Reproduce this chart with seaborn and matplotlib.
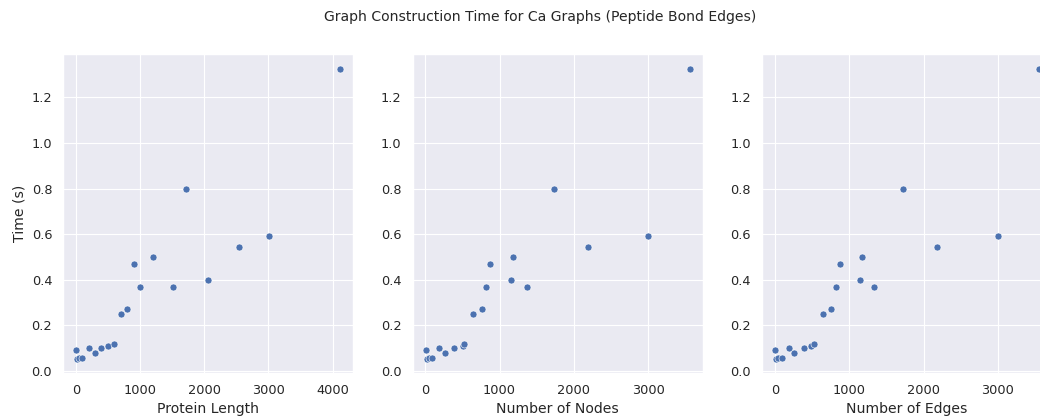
import pandas as pd
import seaborn as sns
import matplotlib.pyplot as plt

# -----------------------------
# Data
# -----------------------------
protein_length = [0, 10, 36, 93, 202, 296, 389, 498, 592, 695,
                  794, 903, 991, 1199, 1505, 2061, 1714, 2535, 3003, 4119]
num_nodes = [9, 18, 49, 90, 184, 265, 390, 502, 520, 646,
             758, 870, 821, 1175, 1363, 1157, 1726, 2184, 3000, 3556]
num_edges = [0, 9, 40, 94, 188, 254, 393, 487, 522, 647,
             759, 871, 821, 1170, 1326, 1138, 1723, 2183, 3004, 3554]
time_s = [0.094, 0.054, 0.058, 0.059, 0.100, 0.078, 0.100, 0.110, 0.120, 0.249,
          0.274, 0.471, 0.368, 0.501, 0.368, 0.398, 0.800, 0.542, 0.590, 1.326]

df = pd.DataFrame({
    'Protein Length': protein_length,
    'Number of Nodes': num_nodes,
    'Number of Edges': num_edges,
    'Time (s)': time_s,
})

# -----------------------------
# Plot
# -----------------------------
sns.set_theme(style='darkgrid')

W, H, DPI = 1040, 417, 84
fig = plt.figure(figsize=(W / DPI, H / DPI), dpi=DPI)

bottom = (H - 373.3) / H
height = (373.3 - 54) / H
lefts = [63.3, 412.7, 762]
width = 290 / W

cols = ['Protein Length', 'Number of Nodes', 'Number of Edges']
for i, (left, col) in enumerate(zip(lefts, cols)):
    ax = fig.add_axes([left / W, bottom, width, height])
    sns.scatterplot(x=col, y='Time (s)', data=df, ax=ax)
    if i > 0:
        ax.set_ylabel('')

fig.text(540 / W, 1 - 17 / H, 'Graph Construction Time for Ca Graphs (Peptide Bond Edges)',
         ha='center', va='center', fontsize=12)

plt.savefig('out.png', dpi=DPI)
